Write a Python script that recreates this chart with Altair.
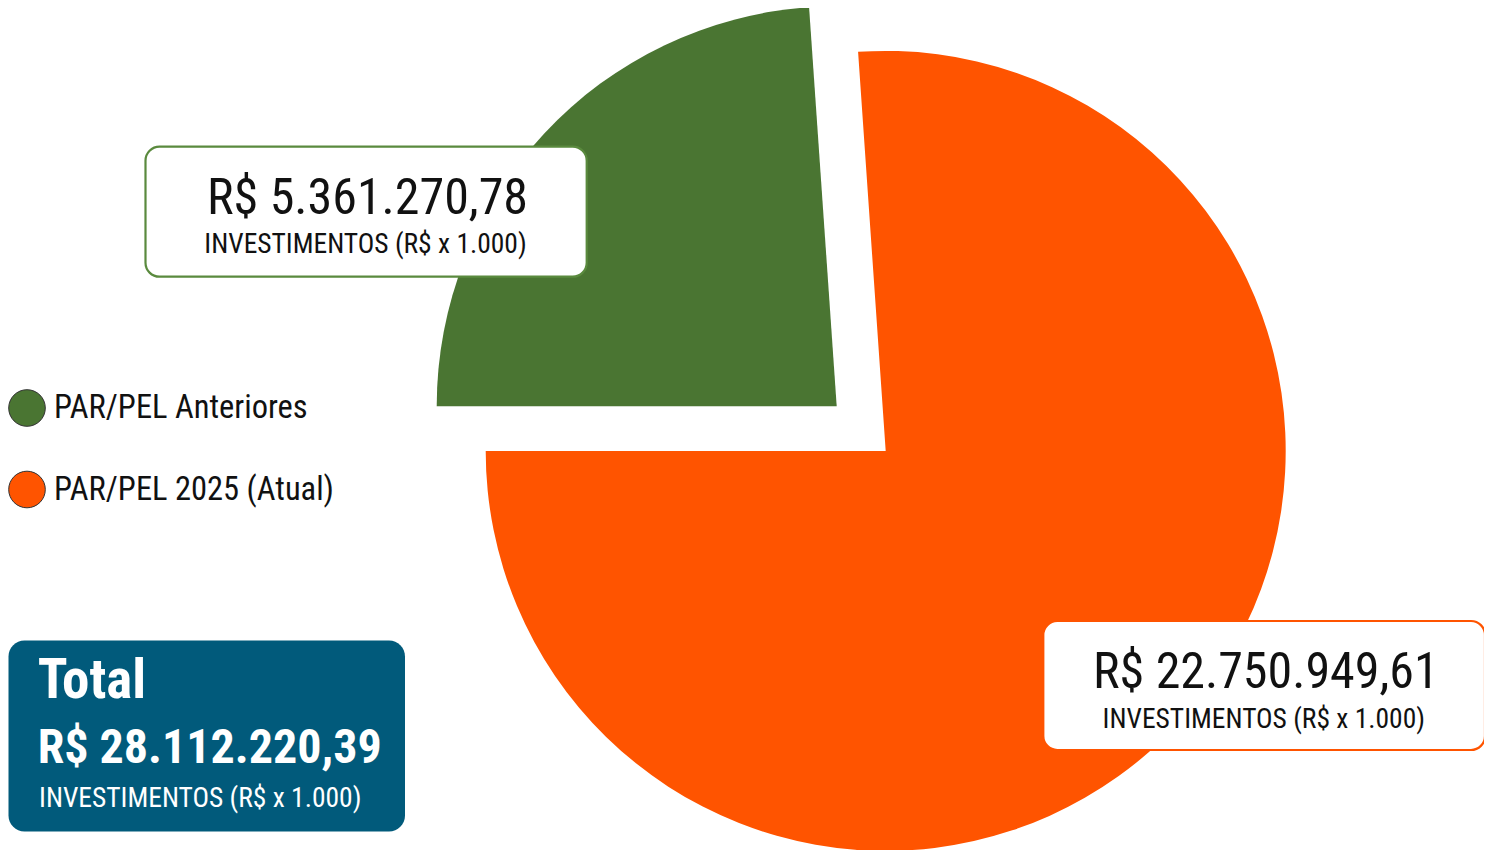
import math
import altair as alt
import pandas as pd

# ---- data ----
categories = ["PAR/PEL Anteriores", "PAR/PEL 2025 (Atual)"]
amount_labels = ["R$ 5.361.270,78", "R$ 22.750.949,61"]
slice_share = [23.9, 76.1]          # share of the circle as drawn (%)
slice_order = [0, 1]
colors = ["#4a7532", "#ff5400"]
total_title = ["Total"]
total_label = ["R$ 28.112.220,39"]
unit_label = ["INVESTIMENTOS (R$ x 1.000)"]

FONT = "Roboto Condensed, DejaVu Sans Condensed, sans-serif"

pie_df = pd.DataFrame({"category": categories, "share": slice_share, "idx": slice_order})

CX, CY, R = 853.2, 420.6, 400
EX, EY = 24.5, 22.3

base = (
    alt.Chart(pie_df)
    .transform_window(cum="sum(share)", sort=[alt.SortField("idx")])
    .transform_calculate(start="datum.cum - datum.share")
    .encode(
        theta=alt.Theta("start:Q", scale=alt.Scale(domain=[0, 100], range=[1.5 * math.pi, 3.5 * math.pi])),
        theta2="cum:Q",
        color=alt.Color(
            "category:N",
            scale=alt.Scale(domain=categories, range=colors),
            legend=alt.Legend(
                title=None,
                orient="none",
                legendX=0,
                legendY=381,
                direction="vertical",
                symbolType="circle",
                symbolSize=1340,
                symbolStrokeColor="#333333",
                symbolStrokeWidth=1,
                symbolOpacity=1,
                labelFont=FONT,
                labelFontSize=32.5,
                labelColor="#111111",
                labelOffset=8,
                labelLimit=500,
                rowPadding=39.5,
                padding=0,
            ),
            sort=categories,
        ),
        x=alt.value(CX),
        y=alt.value(CY),
    )
)

green_slice = base.transform_filter(alt.datum.idx == 0).mark_arc(
    outerRadius=R, xOffset=-EX, yOffset=-EY
)
orange_slice = base.transform_filter(alt.datum.idx == 1).mark_arc(
    outerRadius=R, xOffset=EX, yOffset=EY
)

lab_df = pd.DataFrame({"amount": amount_labels, "unit": unit_label * 2, "category": categories})


def box(x1, y1, x2, y2, fill, stroke, sw, cr):
    mk = dict(fill=fill, strokeWidth=sw, cornerRadius=cr)
    if stroke:
        mk["stroke"] = stroke
    return alt.Chart(pd.DataFrame({"k": [0]})).mark_rect(**mk).encode(
        x=alt.value(x1), x2=alt.value(x2), y=alt.value(y1), y2=alt.value(y2)
    )


green_box = box(137.5, 138.7, 578.7, 268.7, "white", "#5a8a3e", 2.2, 14)
orange_box = box(1035.3, 613, 1477, 742, "white", colors[1], 2.2, 14)
total_box = box(0.5, 632.5, 397, 823.5, "#015a7b", None, 0, 16)


def txt(df, field, x, y, size, weight="normal", color="#111111", align="center"):
    return alt.Chart(df).mark_text(
        font=FONT, fontSize=size, fontWeight=weight, color=color, align=align, baseline="alphabetic"
    ).encode(text=alt.Text(f"{field}:N"), x=alt.value(x), y=alt.value(y))


g_df = lab_df[lab_df.category == categories[0]]
o_df = lab_df[lab_df.category == categories[1]]

texts = [
    txt(g_df, "amount", 359.5, 206, 50),
    txt(g_df, "unit", 357.5, 244.7, 27.5),
    txt(o_df, "amount", 1257.8, 680.3, 50),
    txt(o_df, "unit", 1255.8, 720.3, 27.5),
    txt(pd.DataFrame({"t": total_title}), "t", 29.7, 690.3, 55, "bold", "white", "left"),
    txt(pd.DataFrame({"t": total_label}), "t", 29.7, 755.3, 48, "bold", "white", "left"),
    txt(pd.DataFrame({"t": unit_label}), "t", 31, 798.7, 27.5, "normal", "white", "left"),
]

chart = (
    alt.layer(green_slice, orange_slice, green_box, orange_box, total_box, *texts)
    .properties(width=1476, height=842, padding=0, background="white",
                autosize=alt.AutoSizeParams(type="none"))
    .configure_view(strokeOpacity=0)
)

chart.save("out.html", embed_options={"renderer": "svg", "actions": False})
